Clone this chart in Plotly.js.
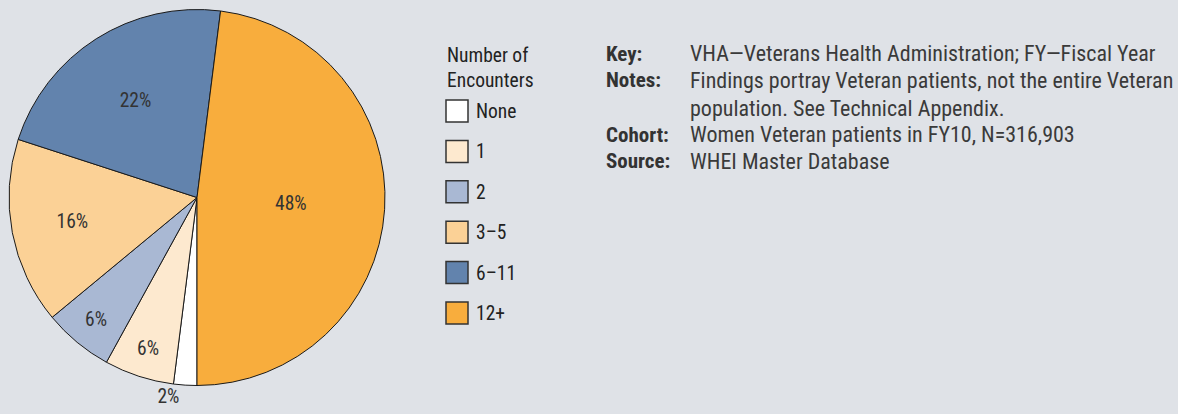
<!DOCTYPE html>
<html>
<head>
<meta charset="utf-8">
<script src="https://cdn.plot.ly/plotly-3.0.1.min.js"></script>
<style>
html,body{margin:0;padding:0;background:#dfe2e7;}
#chart{width:1178px;height:414px;}
svg text, svg tspan{font-stretch:condensed;}
</style>
</head>
<body>
<div id="chart"></div>
<script>
const categories = ["None", "1", "2", "3\u20135", "6\u201311", "12+"];
const shares = [2, 6, 6, 16, 22, 48];
const sliceColors = ["#ffffff", "#fde9cf", "#a9b8d3", "#fbd196", "#6283ad", "#f8ad3d"];
const legendTitle = "Number of<br>Encounters";
const noteLabels = ["Key:", "Notes:", "", "Cohort:", "Source:"];
const noteTexts = [
  "VHA\u2014Veterans Health Administration; FY\u2014Fiscal Year",
  "Findings portray Veteran patients, not the entire Veteran",
  "population. See Technical Appendix.",
  "Women Veteran patients in FY10, N=316,903",
  "WHEI Master Database"
];

const W = 1178, H = 414;
const FONT = "Roboto, 'Open Sans', sans-serif";
const px = x => x / W;
const py = y => 1 - y / H;

const cx = 197, cy = 197.5, R = 188;

const trace = {
  type: "pie",
  labels: categories,
  values: shares,
  sort: false,
  direction: "clockwise",
  rotation: 180,
  marker: { colors: sliceColors, line: { color: "#1a1a1a", width: 1 } },
  texttemplate: "%{value}%",
  textposition: categories.map((c, i) => shares[i] < 4 ? "outside" : "inside"),
  insidetextorientation: "horizontal",
  textfont: { family: FONT, size: 19.5, color: "#333333" },
  outsidetextfont: { family: FONT, size: 19.5, color: "#333333" },
  hoverinfo: "label+percent",
  domain: { x: [px(cx - R), px(cx + R)], y: [py(cy + R), py(cy - R)] },
  automargin: false,
  showlegend: false
};

const shapes = [];
const annotations = [];

annotations.push({
  xref: "paper", yref: "paper", x: px(445), y: py(41.5), xanchor: "left", yanchor: "top",
  align: "left", showarrow: false, text: legendTitle,
  font: { family: FONT, size: 19.5, color: "#222222" }
});

categories.forEach((c, i) => {
  const yc = 111 + i * 40.4;
  shapes.push({
    type: "rect", xref: "paper", yref: "paper",
    x0: px(446), x1: px(468), y0: py(yc + 11), y1: py(yc - 11),
    fillcolor: sliceColors[i], line: { color: "#333333", width: 1.5 }
  });
  annotations.push({
    xref: "paper", yref: "paper", x: px(474), y: py(yc + 0.5), xanchor: "left", yanchor: "middle",
    showarrow: false, text: c, font: { family: FONT, size: 19.5, color: "#222222" }
  });
});

const rowY = [53.5, 80.5, 108, 134.5, 161.5];
noteLabels.forEach((lab, i) => {
  if (lab) {
    annotations.push({
      xref: "paper", yref: "paper", x: px(604), y: py(rowY[i]), xanchor: "left", yanchor: "middle",
      showarrow: false, text: "<b>" + lab + "</b>", font: { family: FONT, size: 21, color: "#333333" }
    });
  }
  annotations.push({
    xref: "paper", yref: "paper", x: px(688), y: py(rowY[i]), xanchor: "left", yanchor: "middle",
    showarrow: false, text: noteTexts[i], font: { family: FONT, size: 22, color: "#3a3a3a" }
  });
});

const layout = {
  width: W, height: H,
  margin: { l: 0, r: 0, t: 0, b: 0 },
  paper_bgcolor: "#dfe2e7",
  plot_bgcolor: "#dfe2e7",
  showlegend: false,
  shapes: shapes,
  annotations: annotations
};

Plotly.newPlot("chart", [trace], layout, { displayModeBar: false, staticPlot: true });
</script>
</body>
</html>
